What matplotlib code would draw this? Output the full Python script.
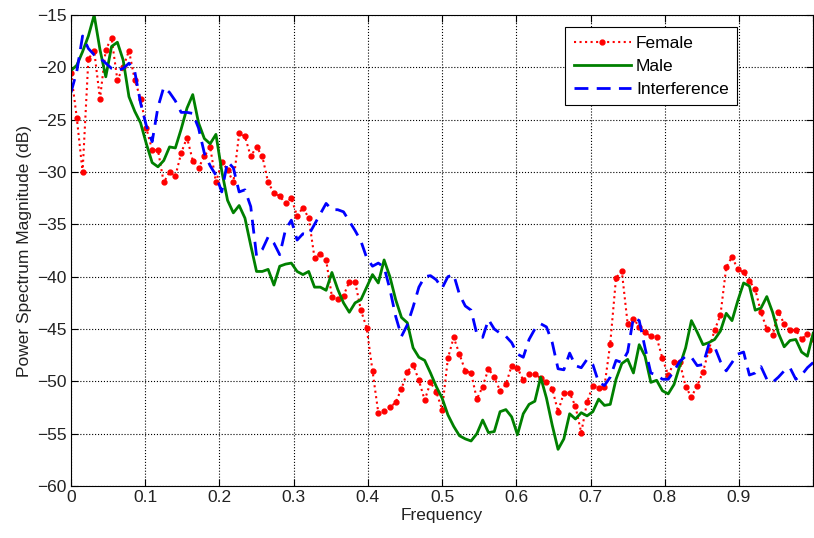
import numpy as np
import matplotlib
matplotlib.use('Agg')
import matplotlib.pyplot as plt

plt.rcParams['font.family'] = ['Liberation Sans', 'DejaVu Sans']

# normalised frequency bins (129 points, 0..1)
freq = np.linspace(0, 1, 129)

female = [
    -20.5, -24.8, -30.0, -19.2, -18.4, -23.0, -18.3, -17.2, -21.2, -20.0,
    -18.4, -21.2, -23.0, -25.8, -27.9, -27.9, -31.0, -30.0, -30.4, -28.2,
    -26.7, -28.9, -29.6, -28.5, -27.6, -31.0, -29.0, -29.8, -31.0, -26.3,
    -26.6, -28.5, -27.6, -28.5, -31.0, -32.0, -32.3, -33.0, -32.5, -34.2,
    -33.4, -34.4, -38.2, -37.8, -38.4, -41.9, -42.1, -41.8, -40.5, -40.5,
    -43.2, -44.9, -49.0, -53.0, -52.8, -52.5, -52.0, -50.7, -49.1, -48.4,
    -49.9, -51.8, -50.1, -51.0, -52.7, -47.8, -45.8, -47.4, -49.0, -49.2,
    -51.7, -50.5, -48.8, -49.6, -50.9, -50.3, -48.5, -48.7, -49.9, -49.3,
    -49.3, -49.7, -50.1, -50.7, -52.9, -51.1, -51.1, -52.4, -54.9, -52.0,
    -50.4, -50.6, -50.5, -46.4, -40.1, -39.5, -44.5, -44.0, -44.8, -45.3,
    -45.7, -45.8, -47.8, -49.4, -48.2, -48.2, -50.5, -51.5, -50.4, -49.1,
    -47.0, -45.1, -43.7, -39.1, -38.1, -39.3, -39.6, -40.4, -41.2, -43.4,
    -45.0, -45.6, -43.4, -44.5, -45.1, -45.1, -46.0, -45.5, -46.0,
]

male = [
    -20.3, -19.8, -18.5, -17.0, -15.0, -18.3, -20.9, -18.0, -17.6, -19.3,
    -22.8, -24.2, -25.3, -27.3, -29.1, -29.5, -28.9, -27.6, -27.7, -25.9,
    -23.9, -22.6, -25.3, -26.8, -27.3, -26.4, -29.9, -32.7, -33.9, -33.2,
    -34.4, -37.0, -39.5, -39.5, -39.3, -40.8, -39.0, -38.8, -38.7, -39.5,
    -39.8, -39.5, -41.0, -41.0, -41.3, -39.6, -41.2, -42.5, -43.4, -42.5,
    -42.2, -41.0, -39.8, -40.6, -38.4, -40.0, -42.2, -43.9, -44.4, -46.8,
    -47.7, -48.0, -49.2, -50.5, -51.6, -53.2, -54.3, -55.2, -55.5, -55.7,
    -55.0, -53.7, -54.9, -54.8, -52.9, -52.7, -53.4, -55.1, -53.1, -52.2,
    -51.9, -49.6, -51.6, -54.2, -56.5, -55.5, -53.1, -53.6, -53.0, -53.3,
    -52.9, -51.7, -52.3, -52.2, -49.8, -48.3, -47.9, -49.2, -46.5, -47.6,
    -50.1, -49.9, -50.9, -51.2, -50.3, -48.5, -46.8, -44.2, -45.3, -46.5,
    -46.3, -46.0, -45.2, -43.5, -44.2, -42.3, -40.6, -40.9, -43.2, -43.0,
    -41.9, -43.4, -45.4, -46.7, -46.1, -46.0, -47.2, -47.6, -45.4,
]

interference = [
    -22.4, -20.4, -17.0, -18.2, -18.8, -19.1, -19.6, -20.1, -20.3, -20.1,
    -19.6, -20.4, -23.4, -25.6, -27.1, -23.8, -21.9, -22.4, -23.2, -24.3,
    -24.3, -24.4, -25.8, -28.2, -29.4, -30.3, -31.9, -29.0, -29.6, -31.9,
    -31.7, -33.3, -38.0, -37.4, -36.2, -36.8, -37.9, -35.5, -34.6, -36.5,
    -35.9, -36.0, -35.0, -34.0, -33.0, -33.6, -33.6, -33.8, -34.7, -35.6,
    -36.6, -38.2, -39.0, -38.7, -39.1, -41.2, -43.8, -45.7, -44.6, -42.9,
    -41.0, -40.0, -39.9, -40.3, -41.1, -40.0, -39.8, -41.7, -42.8, -43.2,
    -45.5, -45.8, -44.1, -45.0, -45.4, -45.7, -46.3, -47.4, -47.7, -46.0,
    -45.0, -44.5, -44.8, -46.3, -48.8, -48.9, -47.3, -48.5, -48.7, -47.9,
    -48.4, -50.1, -50.4, -49.6, -48.0, -48.2, -47.2, -43.9, -44.2, -46.8,
    -49.2, -49.4, -49.8, -49.8, -49.0, -48.1, -47.6, -47.7, -48.5, -48.4,
    -46.5, -46.7, -48.1, -49.0, -48.2, -47.4, -47.2, -49.4, -49.2, -48.6,
    -49.8, -50.1, -49.6, -49.0, -48.7, -49.8, -49.4, -48.7, -48.2,
]

xticks = [0, 0.1, 0.2, 0.3, 0.4, 0.5, 0.6, 0.7, 0.8, 0.9, 1.0]
xticklabels = ['0', '0.1', '0.2', '0.3', '0.4', '0.5', '0.6', '0.7', '0.8', '0.9', '']
yticks = [-60, -55, -50, -45, -40, -35, -30, -25, -20, -15]

fig = plt.figure(figsize=(8.14, 5.38), dpi=100)
ax = fig.add_axes([0.0872, 0.0967, 0.9118, 0.8753])

ax.plot(freq, female, ls=':', c='red', lw=1.5, marker='.', ms=7, label='Female')
ax.plot(freq, male, ls='-', c='green', lw=2, label='Male')
ax.plot(freq, interference, ls=(0, (5, 3)), c='blue', lw=2, label='Interference')

ax.set_xlim(0, 1)
ax.set_ylim(-60, -15)
ax.set_xticks(xticks)
ax.set_xticklabels(xticklabels)
ax.set_yticks(yticks)
ax.tick_params(direction='in', top=True, right=True, labelsize=12.5, length=5, pad=3,
               labelcolor='#222222')
ax.grid(ls=':', c='black', lw=0.8)
for s in ax.spines.values():
    s.set_linewidth(0.8)

ax.set_xlabel('Frequency', fontsize=12.5, labelpad=2, color='#222222')
ax.set_ylabel('Power Spectrum Magnitude (dB)', fontsize=12.5, labelpad=4, color='#222222')

leg = ax.legend(loc='upper right', bbox_to_anchor=(0.898, 0.975), fancybox=False,
                edgecolor='black', fontsize=12.5, borderaxespad=0, handlelength=3.3,
                handletextpad=0.3, labelspacing=0.45, borderpad=0.5)
leg.get_frame().set_linewidth(0.8)
leg.get_frame().set_alpha(1)

fig.savefig('out.png', dpi=100)
